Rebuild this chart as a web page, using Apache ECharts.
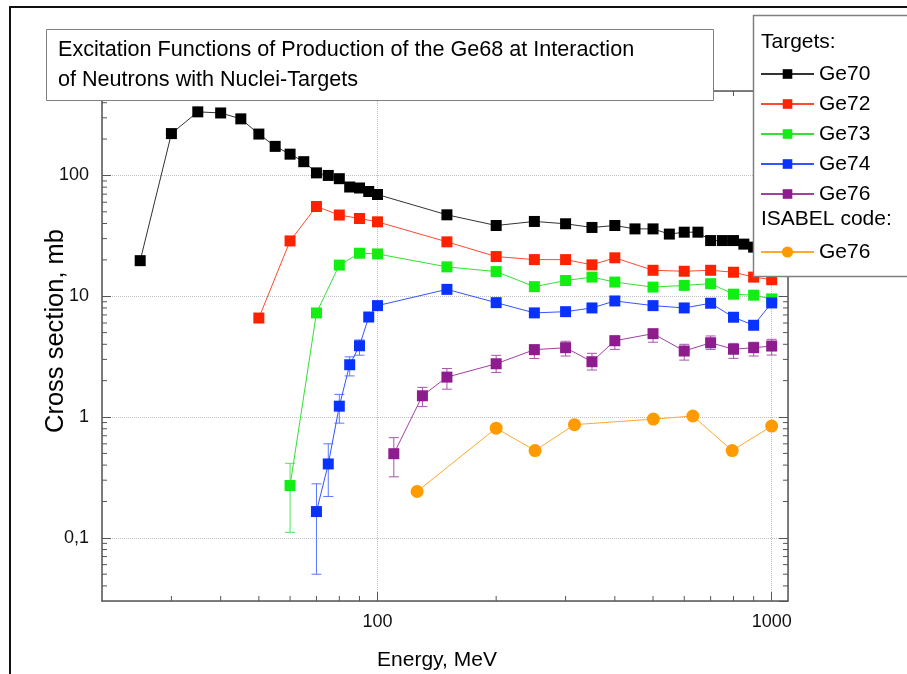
<!DOCTYPE html>
<html>
<head>
<meta charset="utf-8">
<script src="https://cdn.jsdelivr.net/npm/echarts@6/dist/echarts.min.js"></script>
<style>
  html, body { margin: 0; padding: 0; background: #fff; }
  #chart { width: 907px; height: 674px; }
</style>
</head>
<body>
<div id="chart"></div>
<script>
// 能量 (MeV) 和截面 (mb)
const ge70E = [25, 30, 35, 40, 45, 50, 55, 60, 65, 70, 75, 80, 85, 90, 95, 100, 150, 200, 250, 300, 350, 400, 450, 500, 550, 600, 650, 700, 750, 800, 850, 900, 1000];
const ge70Y = [19.7, 222, 336, 329, 294, 220, 174, 150, 130, 105, 100, 94, 80.2, 78.7, 73.6, 69.5, 47.2, 38.5, 41.6, 39.8, 37.1, 38.5, 36.1, 36.1, 32.7, 33.9, 33.9, 28.9, 28.9, 28.9, 27.0, 25.5, 24];

const ge72E = [50, 60, 70, 80, 90, 100, 150, 200, 250, 300, 350, 400, 500, 600, 700, 800, 900, 1000];
const ge72Y = [6.6, 28.7, 55.3, 47, 44, 41.3, 28.2, 21.3, 20.1, 20.1, 18.2, 20.8, 16.4, 16.1, 16.4, 15.8, 14.4, 13.7];

const ge73E = [60, 70, 80, 90, 100, 150, 200, 250, 300, 350, 400, 500, 600, 700, 800, 900, 1000];
const ge73Y = [0.271, 7.27, 18.1, 22.7, 22.4, 17.5, 16.0, 12.0, 13.5, 14.4, 13.1, 11.9, 12.3, 12.7, 10.4, 10.2, 9.5];

const ge74E = [70, 75, 80, 85, 90, 95, 100, 150, 200, 250, 300, 350, 400, 500, 600, 700, 800, 900, 1000];
const ge74Y = [0.165, 0.409, 1.23, 2.71, 3.89, 6.73, 8.36, 11.4, 8.85, 7.28, 7.45, 8.0, 9.14, 8.36, 8.0, 8.75, 6.70, 5.75, 8.8];

const ge76E = [110, 130, 150, 200, 250, 300, 350, 400, 500, 600, 700, 800, 900, 1000];
const ge76Y = [0.497, 1.50, 2.14, 2.76, 3.61, 3.75, 2.87, 4.28, 4.90, 3.52, 4.12, 3.64, 3.75, 3.87];

// ISABEL code 计算值
const isabelE = [126, 200, 251, 316, 501, 631, 794, 1000];
const isabelY = [0.242, 0.809, 0.528, 0.865, 0.961, 1.02, 0.528, 0.841];

// 误差棒
const ge73ErrE = [60];
const ge73ErrLo = [0.111];
const ge73ErrHi = [0.414];
const ge74ErrE = [70, 75, 80, 85, 90];
const ge74ErrLo = [0.05, 0.22, 0.89, 2.19, 3.25];
const ge74ErrHi = [0.28, 0.60, 1.54, 3.15, 4.35];
const ge76ErrLo = [0.32, 1.22, 1.70, 2.34, 3.05, 3.20, 2.45, 3.63, 4.16, 2.96, 3.63, 3.06, 3.20, 3.26];
const ge76ErrHi = [0.675, 1.76, 2.52, 3.24, 3.95, 4.24, 3.37, 4.69, 5.26, 4.0, 4.69, 4.07, 4.16, 4.40];

// 坐标轴范围和次刻度
const X_MIN = 20, X_MAX = 1100, Y_MIN = 0.03, Y_MAX = 500;
const xMinorTicks = [30, 40, 50, 60, 70, 80, 90, 200, 300, 400, 500, 600, 700, 800, 900];
const yMinorTicks = [0.04, 0.05, 0.06, 0.07, 0.08, 0.09, 0.2, 0.3, 0.4, 0.5, 0.6, 0.7, 0.8, 0.9,
                     2, 3, 4, 5, 6, 7, 8, 9, 20, 30, 40, 50, 60, 70, 80, 90, 200, 300, 400];

const FONT = 'Liberation Sans, Arial, sans-serif';
const AXIS_COLOR = '#555';

const zip = (a, b) => a.map((v, i) => [v, b[i]]);
const zip3 = (a, b, c) => a.map((v, i) => [v, b[i], c[i]]);

function lineSeries(name, xs, ys, color, lineColor, symbol, size) {
    return {
        name: name,
        type: 'line',
        data: zip(xs, ys),
        symbol: symbol,
        symbolSize: size,
        showAllSymbol: true,
        itemStyle: { color: color },
        lineStyle: { color: lineColor, width: 1 },
        z: 3,
        animation: false
    };
}

function errorBars(xs, lo, hi, color) {
    return {
        type: 'custom',
        data: zip3(xs, lo, hi),
        encode: { x: 0, y: [1, 2] },
        z: 2,
        silent: true,
        animation: false,
        renderItem: (params, api) => {
            const x = api.value(0);
            const a = api.coord([x, api.value(1)]);
            const b = api.coord([x, api.value(2)]);
            const st = { stroke: color, lineWidth: 1 };
            return {
                type: 'group',
                children: [
                    { type: 'line', shape: { x1: a[0], y1: a[1], x2: b[0], y2: b[1] }, style: st },
                    { type: 'line', shape: { x1: a[0] - 5, y1: a[1], x2: a[0] + 5, y2: a[1] }, style: st },
                    { type: 'line', shape: { x1: b[0] - 5, y1: b[1], x2: b[0] + 5, y2: b[1] }, style: st }
                ]
            };
        }
    };
}

// 四周的次刻度（向内）
function minorTicks(values, isX) {
    return {
        type: 'custom',
        data: values.map(v => isX ? [v, Y_MIN] : [X_MIN, v]),
        silent: true,
        animation: false,
        clip: false,
        z: 1,
        renderItem: (params, api) => {
            const st = { stroke: AXIS_COLOR, lineWidth: 1 };
            let p, q;
            if (isX) {
                const v = api.value(0);
                p = api.coord([v, Y_MIN]);
                q = api.coord([v, Y_MAX]);
                return { type: 'group', children: [
                    { type: 'line', shape: { x1: p[0], y1: p[1], x2: p[0], y2: p[1] - 5 }, style: st },
                    { type: 'line', shape: { x1: q[0], y1: q[1], x2: q[0], y2: q[1] + 5 }, style: st }
                ]};
            }
            const v = api.value(1);
            p = api.coord([X_MIN, v]);
            q = api.coord([X_MAX, v]);
            return { type: 'group', children: [
                { type: 'line', shape: { x1: p[0], y1: p[1], x2: p[0] + 5, y2: p[1] }, style: st },
                { type: 'line', shape: { x1: q[0], y1: q[1], x2: q[0] - 5, y2: q[1] }, style: st }
            ]};
        }
    };
}

function xLabel(v) {
    return String(Math.round(v));
}

function yLabel(v) {
    const n = Number(v.toPrecision(6));
    return String(n).replace('.', ',');
}

const chart = echarts.init(document.getElementById('chart'), null, { renderer: 'canvas' });

chart.setOption({
    backgroundColor: '#fff',
    animation: false,
    textStyle: { fontFamily: FONT },
    title: {
        text: 'Excitation Functions of Production of the Ge68 at Interaction\nof Neutrons with Nuclei-Targets',
        left: 46,
        top: 29,
        padding: [6, 80, 6, 12],
        backgroundColor: '#fff',
        borderColor: '#808080',
        borderWidth: 1,
        textStyle: { fontFamily: FONT, fontSize: 21.6, fontWeight: 'normal', color: '#000', lineHeight: 30 }
    },
    legend: [
        {
            data: ['Ge70', 'Ge72', 'Ge73', 'Ge74', 'Ge76'],
            orient: 'vertical',
            left: 755,
            top: 57,
            itemWidth: 53,
            itemHeight: 12,
            itemGap: 6,
            z: 6,
            selectedMode: false,
            textStyle: { fontFamily: FONT, fontSize: 21, color: '#000', lineHeight: 24 }
        },
        {
            data: ['ISABEL Ge76'],
            orient: 'vertical',
            left: 755,
            top: 235,
            itemWidth: 53,
            itemHeight: 14,
            z: 6,
            selectedMode: false,
            formatter: () => 'Ge76',
            textStyle: { fontFamily: FONT, fontSize: 21, color: '#000', lineHeight: 24 }
        }
    ],
    graphic: [
        { type: 'rect', z: 5, shape: { x: 753.5, y: 15.5, width: 200, height: 261 },
          style: { fill: '#fff', stroke: '#808080', lineWidth: 1.5 } },
        { type: 'text', z: 6, style: { x: 761, y: 42, text: 'Targets:', font: '21px ' + FONT, fill: '#000', verticalAlign: 'middle' } },
        { type: 'text', z: 6, style: { x: 761, y: 219, text: 'ISABEL code:', font: '21px ' + FONT, fill: '#000', verticalAlign: 'middle' } },
        { type: 'rect', z: 7, shape: { x: 10, y: 7, width: 960, height: 720 },
          style: { fill: 'none', stroke: '#111', lineWidth: 2 } }
    ],
    grid: { left: 102, right: 119, top: 91, bottom: 73, containLabel: false, outerBoundsMode: 'none' },
    xAxis: [
        {
            type: 'log',
            logBase: 10,
            min: X_MIN,
            max: X_MAX,
            name: 'Energy, MeV',
            nameLocation: 'middle',
            nameGap: 49,
            nameMoveOverlap: false,
            nameTextStyle: { fontFamily: FONT, fontSize: 21, color: '#000', padding: [0, 16, 0, 0] },
            axisLine: { show: true, lineStyle: { color: AXIS_COLOR, width: 1.5 } },
            axisTick: { show: true, inside: true, length: 9, lineStyle: { color: AXIS_COLOR } },
            axisLabel: { fontFamily: FONT, fontSize: 18, color: '#111', margin: 12, showMinLabel: false, showMaxLabel: false, formatter: xLabel },
            splitLine: { show: true, lineStyle: { type: 'dotted', color: '#c0c0c0' } },
            minorTick: { show: false }
        },
        {
            type: 'log',
            logBase: 10,
            min: X_MIN,
            max: X_MAX,
            position: 'top',
            axisLine: { show: true, lineStyle: { color: AXIS_COLOR, width: 1.5 } },
            axisTick: { show: true, inside: true, length: 9, lineStyle: { color: AXIS_COLOR } },
            axisLabel: { show: false },
            splitLine: { show: false }
        }
    ],
    yAxis: [
        {
            type: 'log',
            logBase: 10,
            min: Y_MIN,
            max: Y_MAX,
            name: 'Cross section, mb',
            nameLocation: 'middle',
            nameGap: 33,
            nameMoveOverlap: false,
            nameTextStyle: { fontFamily: FONT, fontSize: 25.5, color: '#000', padding: [0, 0, 0, 30] },
            axisLine: { show: true, lineStyle: { color: AXIS_COLOR, width: 1.5 } },
            axisTick: { show: true, inside: true, length: 9, lineStyle: { color: AXIS_COLOR } },
            axisLabel: { fontFamily: FONT, fontSize: 18, color: '#111', margin: 13, showMinLabel: false, showMaxLabel: false, formatter: yLabel },
            splitLine: { show: true, lineStyle: { type: 'dotted', color: '#c0c0c0' } }
        },
        {
            type: 'log',
            logBase: 10,
            min: Y_MIN,
            max: Y_MAX,
            position: 'right',
            axisLine: { show: true, lineStyle: { color: AXIS_COLOR, width: 1.5 } },
            axisTick: { show: true, inside: true, length: 9, lineStyle: { color: AXIS_COLOR } },
            axisLabel: { show: false },
            splitLine: { show: false }
        }
    ],
    series: [
        minorTicks(xMinorTicks, true),
        minorTicks(yMinorTicks, false),
        errorBars(ge73ErrE, ge73ErrLo, ge73ErrHi, '#55e055'),
        errorBars(ge74ErrE, ge74ErrLo, ge74ErrHi, '#5a78ff'),
        errorBars(ge76E, ge76ErrLo, ge76ErrHi, '#a855a8'),
        lineSeries('Ge70', ge70E, ge70Y, '#000000', '#333333', 'rect', 11),
        lineSeries('Ge72', ge72E, ge72Y, '#ff2200', '#ff4a30', 'rect', 11),
        lineSeries('Ge73', ge73E, ge73Y, '#11ee11', '#33e033', 'rect', 11),
        lineSeries('Ge74', ge74E, ge74Y, '#0a32ff', '#3355ff', 'rect', 11),
        lineSeries('Ge76', ge76E, ge76Y, '#8e1c8e', '#a040a0', 'rect', 11),
        lineSeries('ISABEL Ge76', isabelE, isabelY, '#ff9a00', '#ffa833', 'circle', 13)
    ]
});
</script>
</body>
</html>
